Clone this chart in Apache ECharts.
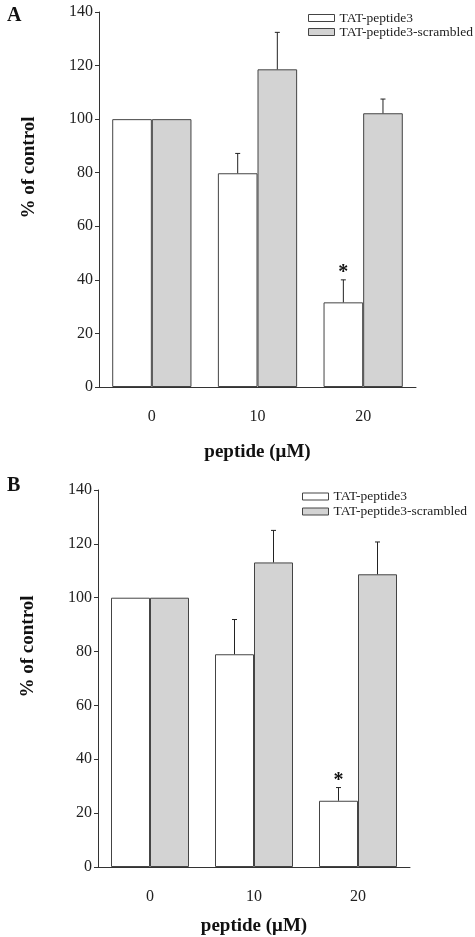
<!DOCTYPE html>
<html>
<head>
<meta charset="utf-8">
<script src="https://cdn.jsdelivr.net/npm/echarts@6/dist/echarts.min.js"></script>
<style>html,body{margin:0;padding:0;background:#fff}#c{width:475px;height:937px}</style>
</head>
<body>
<div id="c"></div>
<script>
const categories = ['0', '10', '20'];
const seriesNames = ['TAT-peptide3', 'TAT-peptide3-scrambled'];
const yTicks = [0, 20, 40, 60, 80, 100, 120, 140];
// Panel A
const A_pep3 = [100, 79.8, 31.6];
const A_pep3_err = [0, 7.4, 8.4];
const A_scr = [100, 118.6, 102.2];
const A_scr_err = [0, 13.8, 5.3];
const A_stars = ['', '', '*'];
// Panel B
const B_pep3 = [100, 79.0, 24.6];
const B_pep3_err = [0, 12.9, 4.9];
const B_scr = [100, 113.1, 108.7];
const B_scr_err = [0, 11.9, 12.0];
const B_stars = ['', '', '*'];

const FONT = 'Liberation Serif';
const chart = echarts.init(document.getElementById('c'));

function errSeries(gi, sign, vals, errs, stars) {
  return {
    type: 'custom', xAxisIndex: gi, yAxisIndex: gi, silent: true, z: 5,
    data: vals.map((v, i) => [i, v, errs[i]]),
    renderItem: function (params, api) {
      const i = api.value(0), v = api.value(1), e = api.value(2);
      const star = stars ? stars[i] : '';
      const band = api.size([1, 0])[0];
      const base = api.coord([i, v]);
      const x = base[0] + sign * band * 0.1875;
      const y0 = base[1];
      const y1 = api.coord([i, v + e])[1];
      const children = [];
      if (e > 0) {
        children.push({ type: 'line', shape: { x1: x, y1: y0, x2: x, y2: y1 }, style: { stroke: '#222', lineWidth: 1 } });
        children.push({ type: 'line', shape: { x1: x - 2.5, y1: y1, x2: x + 2.5, y2: y1 }, style: { stroke: '#222', lineWidth: 1 } });
      }
      if (star) {
        children.push({ type: 'text', style: { text: star, x: x, y: y1 + 3, align: 'center', verticalAlign: 'bottom', font: 'bold 20px "' + FONT + '"', fill: '#111' } });
      }
      return { type: 'group', children: children };
    }
  };
}

function barSeries(gi, name, vals, color) {
  return {
    type: 'bar', name: name, xAxisIndex: gi, yAxisIndex: gi,
    data: vals, barWidth: '37.5%', barGap: '0%',
    itemStyle: { color: color, borderColor: '#444', borderWidth: 1 },
    emphasis: { disabled: true }
  };
}

function xAxis(gi, nameGap) {
  return {
    type: 'category', gridIndex: gi, data: categories,
    axisLine: { lineStyle: { color: '#333', width: 1 } },
    axisTick: { show: false },
    axisLabel: { fontFamily: FONT, fontSize: 16, color: '#222', margin: 22 },
    name: 'peptide (μM)', nameLocation: 'middle', nameGap: nameGap,
    nameTextStyle: { fontFamily: FONT, fontSize: 19, fontWeight: 'bold', color: '#111' }
  };
}
function yAxis(gi) {
  return {
    type: 'value', gridIndex: gi, min: yTicks[0], max: yTicks[yTicks.length - 1], interval: 20,
    axisLine: { show: true, lineStyle: { color: '#333', width: 1 } },
    axisTick: { show: true, length: 4, lineStyle: { color: '#333' } },
    splitLine: { show: false },
    axisLabel: { fontFamily: FONT, fontSize: 16, color: '#222', margin: 6 },
    name: '% of control', nameLocation: 'middle', nameGap: 60,
    nameTextStyle: { fontFamily: FONT, fontSize: 19, fontWeight: 'bold', color: '#111', padding: [0, 0, 0, 64] }
  };
}
function legend(left, top, lh) {
  return {
    orient: 'vertical', left: left, top: top, padding: 0, itemWidth: 26, itemHeight: 7, itemGap: 0,
    data: seriesNames, selectedMode: false, icon: 'rect',
    itemStyle: { borderWidth: 1 },
    textStyle: { fontFamily: FONT, fontSize: 13.5, color: '#222', lineHeight: lh }
  };
}

chart.setOption({
  animation: false,
  backgroundColor: '#fff',
  title: [
    { text: 'A', left: 2, top: 1, textStyle: { fontFamily: FONT, fontSize: 20, fontWeight: 'bold', color: '#111' } },
    { text: 'B', left: 2, top: 471, textStyle: { fontFamily: FONT, fontSize: 20, fontWeight: 'bold', color: '#111' } }
  ],
  legend: [legend(308, 11, 14), legend(302, 489, 15)],
  grid: [
    { left: 99, top: 12, width: 317, height: 375 },
    { left: 98, top: 490, width: 312, height: 381 }
  ],
  xAxis: [xAxis(0, 56), xAxis(1, 50)],
  yAxis: [yAxis(0), yAxis(1)],
  series: [
    barSeries(0, seriesNames[0], A_pep3, '#ffffff'),
    barSeries(0, seriesNames[1], A_scr, '#d3d3d3'),
    errSeries(0, -1, A_pep3, A_pep3_err, A_stars),
    errSeries(0, 1, A_scr, A_scr_err, null),
    barSeries(1, seriesNames[0], B_pep3, '#ffffff'),
    barSeries(1, seriesNames[1], B_scr, '#d3d3d3'),
    errSeries(1, -1, B_pep3, B_pep3_err, B_stars),
    errSeries(1, 1, B_scr, B_scr_err, null)
  ]
});
</script>
</body>
</html>
